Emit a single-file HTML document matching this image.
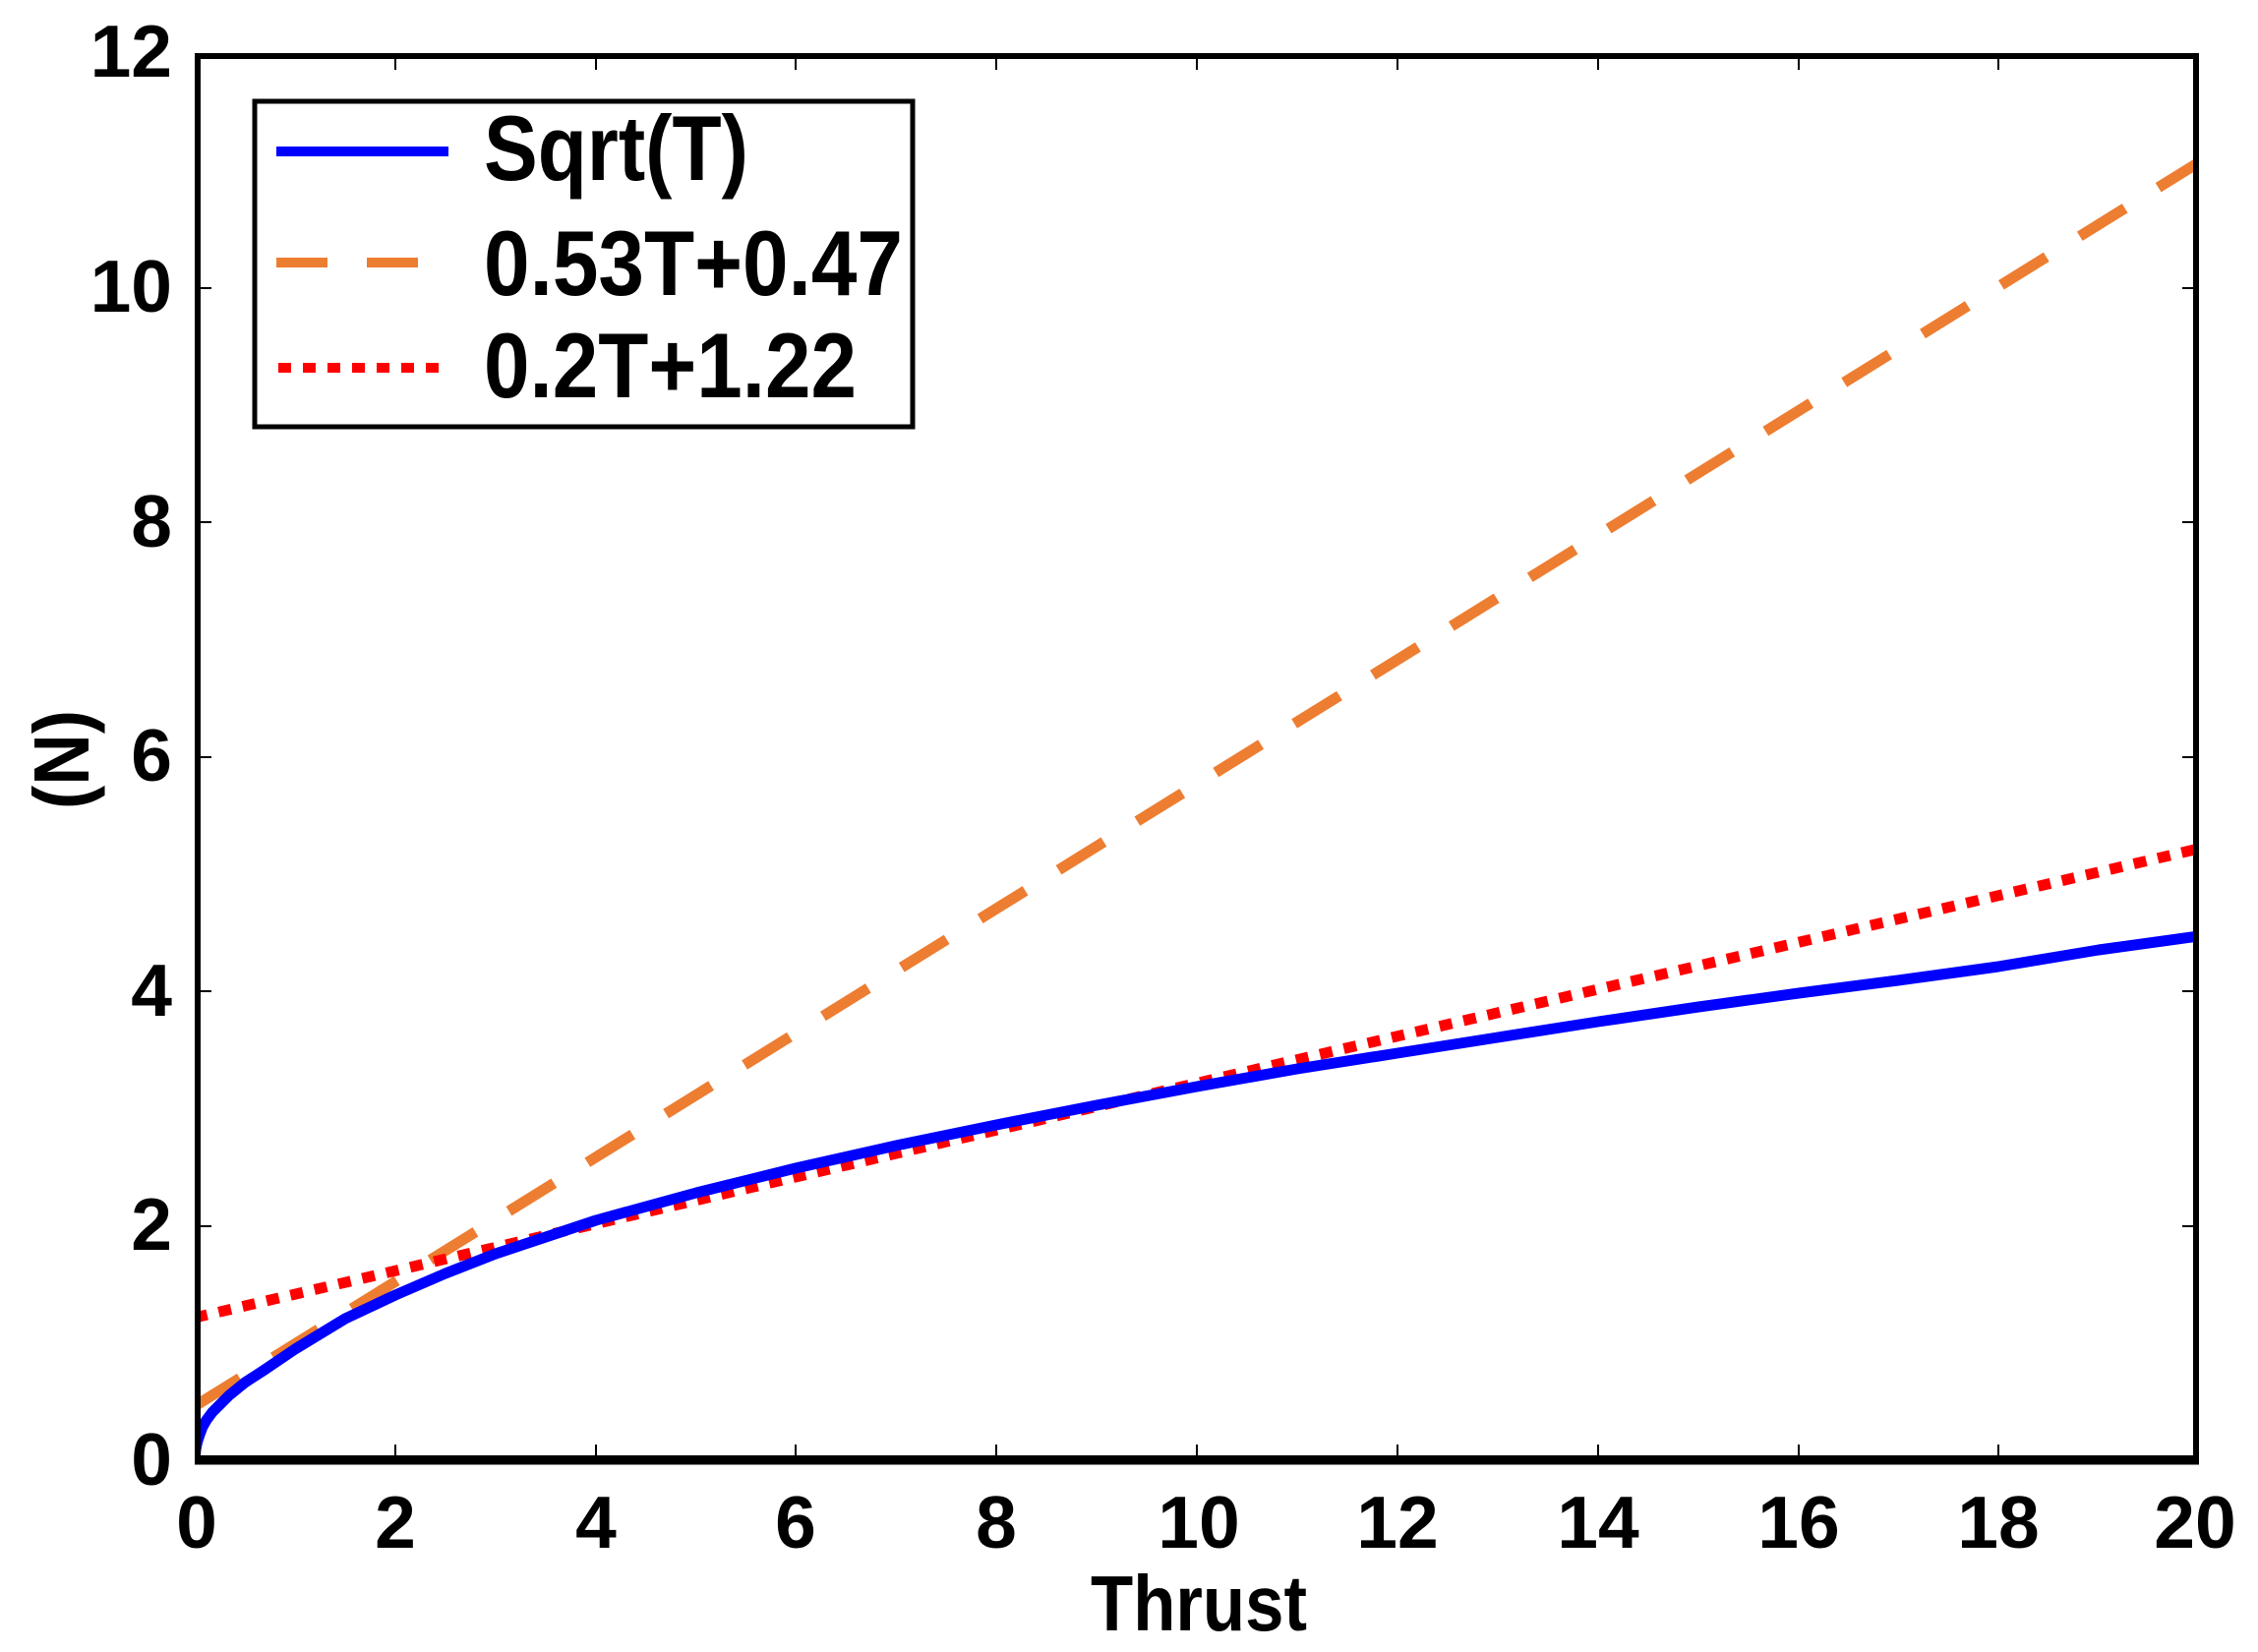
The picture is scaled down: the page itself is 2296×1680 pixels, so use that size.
<!DOCTYPE html>
<html><head><meta charset="utf-8"><style>
html,body{margin:0;padding:0;background:#fff;}
svg{display:block;}
text{font-family:"Liberation Sans",sans-serif;font-weight:bold;fill:#000;}
</style></head><body>
<svg width="2296" height="1680" viewBox="0 0 2296 1680" xmlns="http://www.w3.org/2000/svg">
<defs><clipPath id="c"><rect x="198" y="54" width="2038" height="1432"/></clipPath></defs>
<g stroke="#000" stroke-width="2">
<path d="M402 1486v-17M606 1486v-17M809 1486v-17M1013 1486v-17M1217 1486v-17M1421 1486v-17M1625 1486v-17M1829 1486v-17M2032 1486v-17
M402 54v17M606 54v17M809 54v17M1013 54v17M1217 54v17M1421 54v17M1625 54v17M1829 54v17M2032 54v17
M198 1247h17M198 1008h17M198 770h17M198 531h17M198 293h17
M2236 1247h-17M2236 1008h-17M2236 770h-17M2236 531h-17M2236 293h-17"/>
</g>
<g clip-path="url(#c)" fill="none" stroke-width="11">
<polyline stroke="#ed7d31" stroke-dasharray="54 40" points="198,1430 2236,165"/>
<polyline stroke="#ff0000" stroke-dasharray="13 12" points="198,1340 2236,863"/>
<polyline stroke="#0000ff" stroke-linejoin="round" points="198,1486 199,1474 200,1469 201,1465 203,1459 206,1451 210,1444 216,1436 223,1429 233,1419 249,1406 269,1393 300,1372 351,1341 402,1317 453,1295 504,1275 606,1241 708,1213 809,1188 911,1165 1013,1144 1115,1124 1217,1105 1319,1087 1421,1071 1523,1055 1625,1039 1727,1024 1829,1010 1930,997 2032,983 2134,966 2236,952"/>
</g>
<rect x="201" y="57" width="2032" height="1426" fill="none" stroke="#000" stroke-width="6"/>
<line x1="198" y1="1486" x2="2236" y2="1486" stroke="#000" stroke-width="7"/>
<g font-size="75" text-anchor="end">
<text x="175" y="1510">0</text><text x="175" y="1271">2</text><text x="175" y="1033">4</text>
<text x="175" y="794">6</text><text x="175" y="556">8</text><text x="175" y="317">10</text><text x="175" y="78">12</text>
</g>
<g font-size="75" text-anchor="middle">
<text x="200" y="1574">0</text><text x="402" y="1574">2</text><text x="606" y="1574">4</text>
<text x="809" y="1574">6</text><text x="1013" y="1574">8</text><text x="1219" y="1574">10</text>
<text x="1421" y="1574">12</text><text x="1625" y="1574">14</text><text x="1829" y="1574">16</text>
<text x="2032" y="1574">18</text><text x="2232" y="1574">20</text>
</g>
<text x="1109" y="1658" font-size="80" textLength="220" lengthAdjust="spacingAndGlyphs">Thrust</text>
<text transform="translate(90,823) rotate(-90)" font-size="80" textLength="101" lengthAdjust="spacingAndGlyphs">(N)</text>
<rect x="259" y="103" width="669" height="331" fill="#fff" stroke="#000" stroke-width="5"/>
<line x1="281" y1="154" x2="456" y2="154" stroke="#0000ff" stroke-width="10"/>
<line x1="281" y1="267" x2="456" y2="267" stroke="#ed7d31" stroke-width="10" stroke-dasharray="52 40"/>
<line x1="283" y1="374" x2="458" y2="374" stroke="#ff0000" stroke-width="10" stroke-dasharray="13 12"/>
<g font-size="94">
<text x="492" y="183" textLength="269" lengthAdjust="spacingAndGlyphs">Sqrt(T)</text>
<text x="492" y="300" textLength="426" lengthAdjust="spacingAndGlyphs">0.53T+0.47</text>
<text x="492" y="404" textLength="379" lengthAdjust="spacingAndGlyphs">0.2T+1.22</text>
</g>
</svg>
</body></html>
